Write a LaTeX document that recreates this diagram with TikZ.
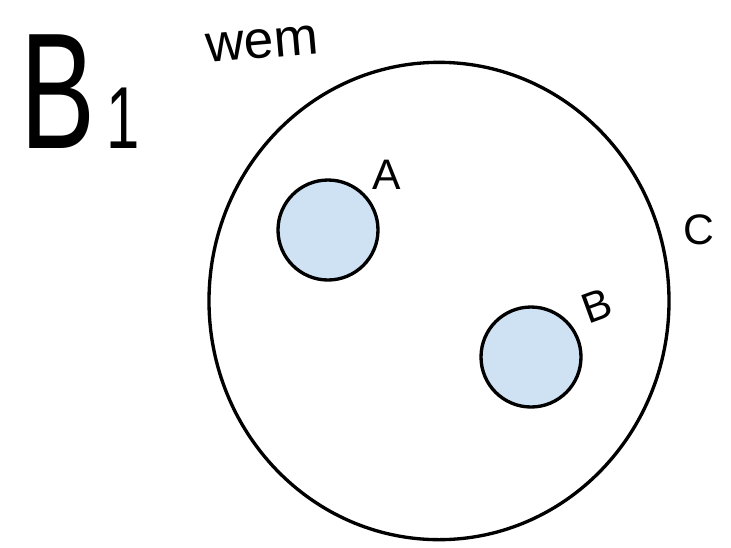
\documentclass[tikz,border=0pt]{standalone}
\usepackage{fontspec}
\setmainfont{Liberation Sans}
\usetikzlibrary{shapes.geometric}
\definecolor{setfill}{HTML}{CFE2F3}

\begin{document}
\begin{tikzpicture}[
    x=0.75pt, y=-0.75pt,
    universe/.style={draw, ellipse, line width=2.5pt, minimum width=345pt, minimum height=358pt, inner sep=0pt},
    subset/.style={draw, circle, line width=2.5pt, fill=setfill, minimum size=75pt, inner sep=0pt},
    tag/.style={font=\fontsize{32}{32}\selectfont, inner sep=0pt}
]
\useasboundingbox (0,0) rectangle (731,547);

% Outer set C
\node[universe] (outer) at (439, 301) {};

% Inner sets
\node[subset] (setA) at (328, 230) {};
\node[subset] (setB) at (531, 357) {};

% Labels
\node[tag] (labA) at (387, 175) {A};
\node[tag, rotate=20] (labB) at (597, 306) {B};
\node[tag] (labC) at (699, 230) {C};

% Title
\node[inner sep=0pt, anchor=base west, xscale=0.68] (title) at (20, 148)
    {\fontsize{124}{124}\selectfont B\hspace{12pt}\fontsize{66}{66}\selectfont 1};
\node[inner sep=0pt, rotate=5, font=\fontsize{40}{40}\selectfont] (note) at (262, 44) {wem};

\end{tikzpicture}
\end{document}
